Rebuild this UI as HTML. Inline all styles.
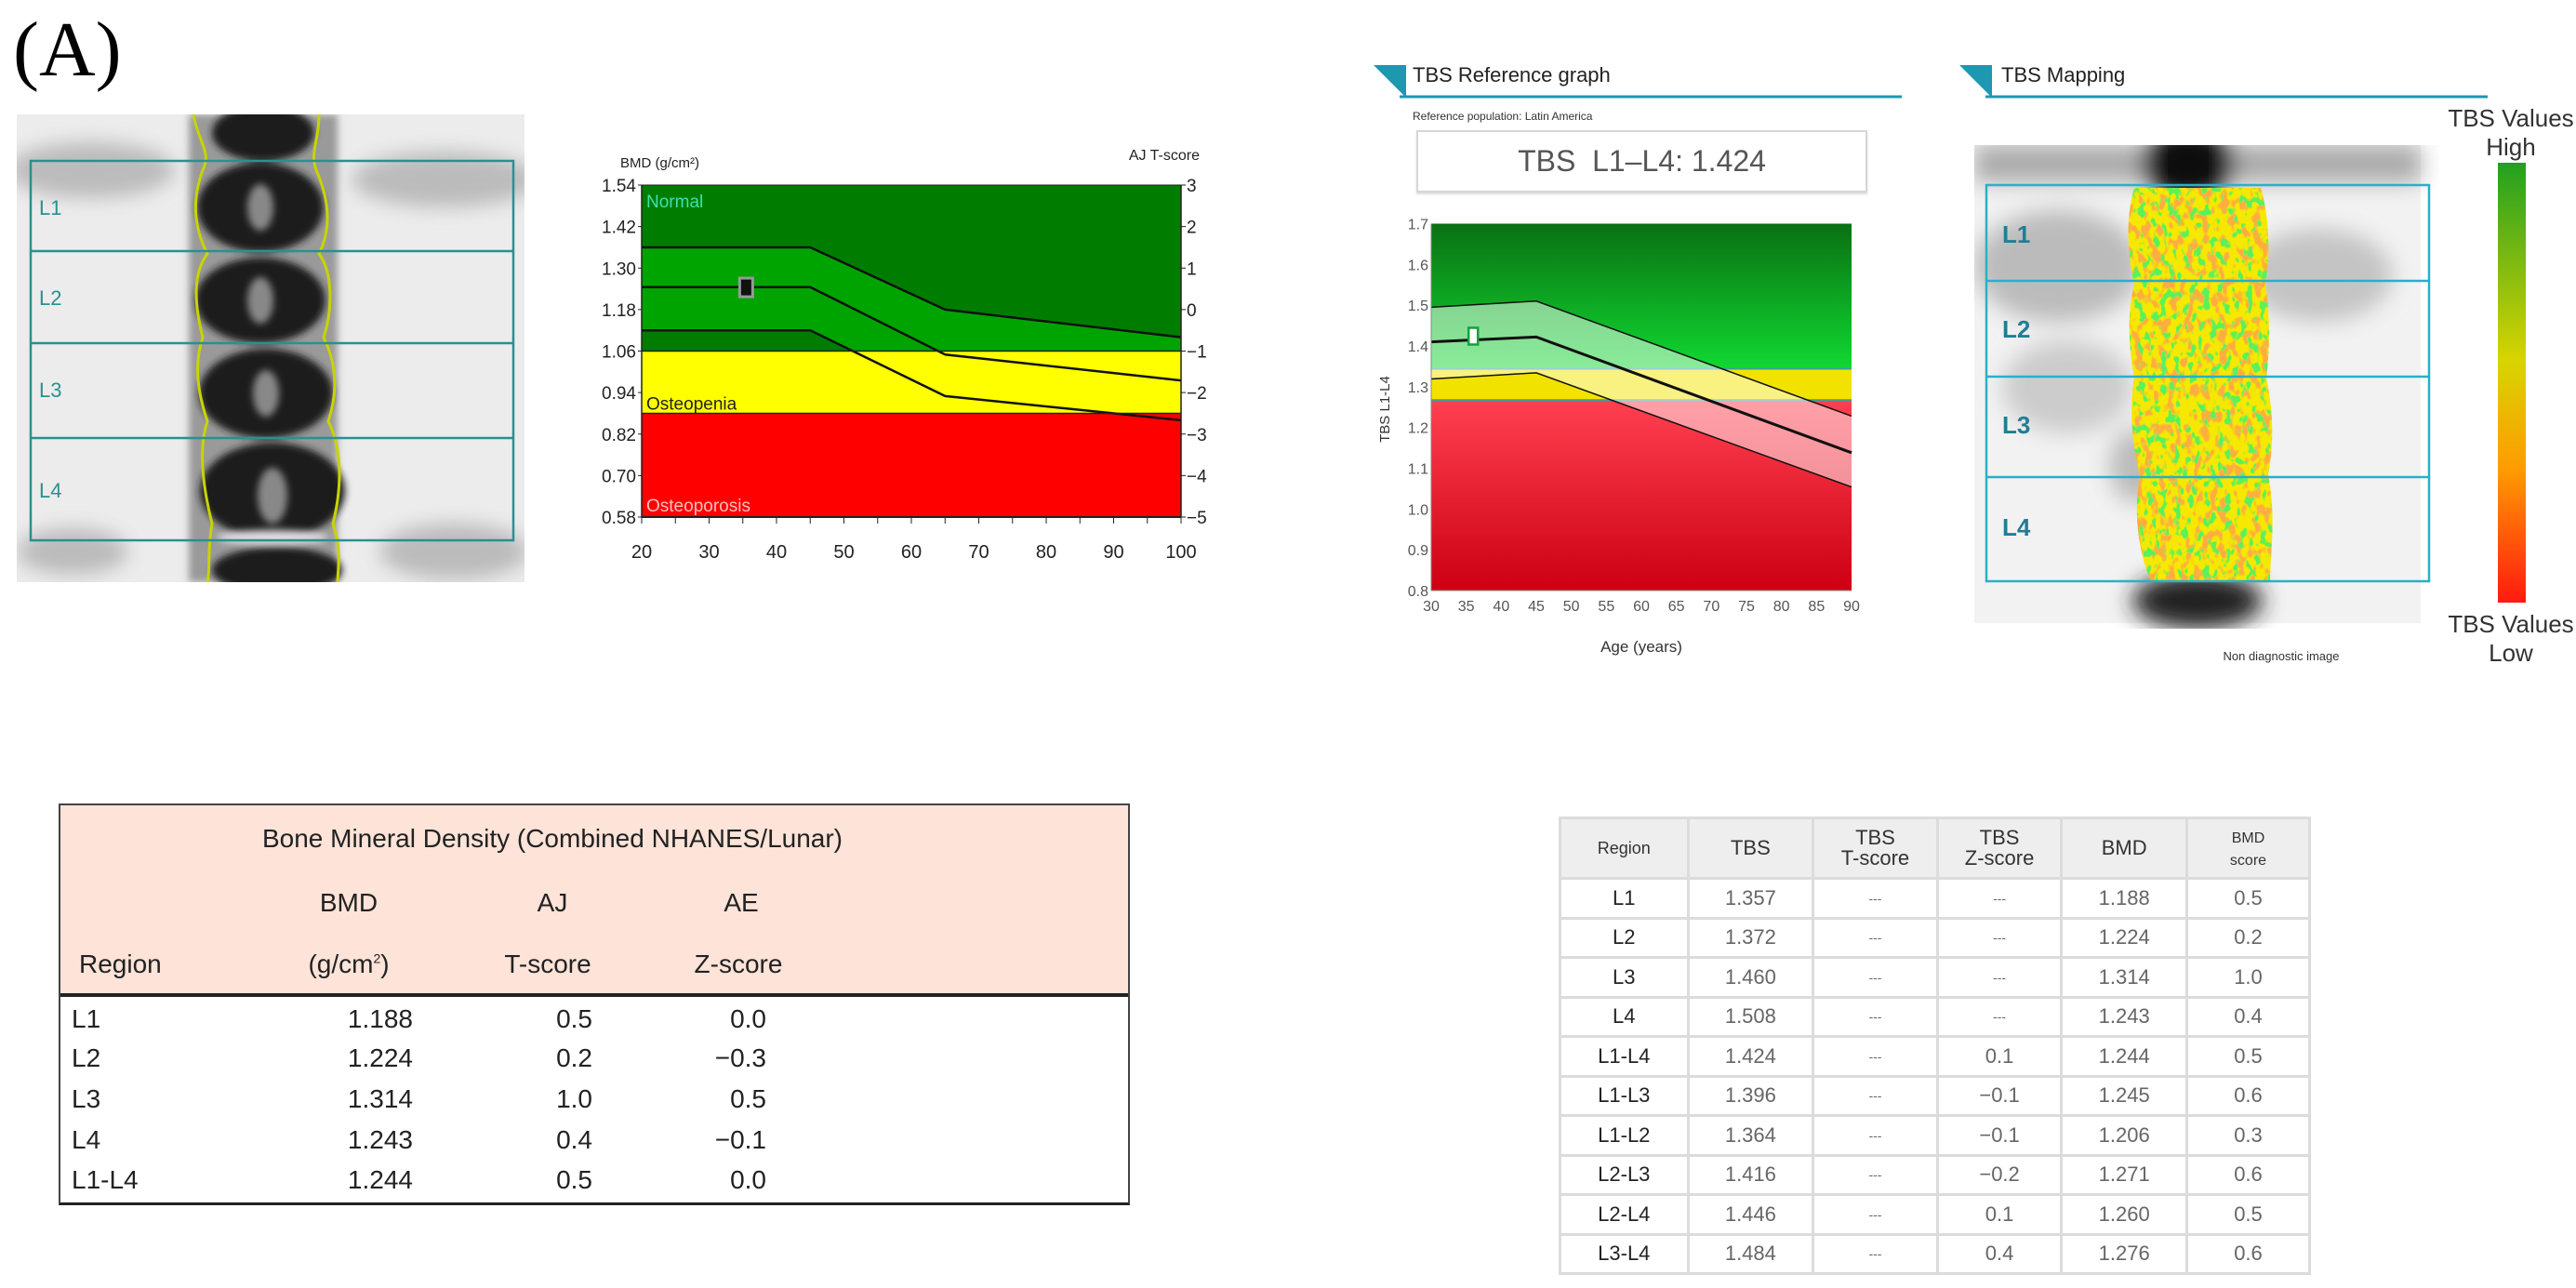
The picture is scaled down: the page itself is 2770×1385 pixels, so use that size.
<!DOCTYPE html>
<html><head><meta charset="utf-8">
<style>
body{margin:0;width:2770px;height:1385px;background:#fff;position:relative;overflow:hidden;font-family:"Liberation Sans",sans-serif;}
.abs{position:absolute;}
.n{font-family:"Liberation Sans Narrow","Liberation Sans",sans-serif;}
table{border-collapse:collapse;}
</style></head><body>
<div class="abs" style="left:14px;top:12px;font-family:'Liberation Serif',serif;font-size:84px;line-height:1;">(A)</div>

<!-- left DXA spine image -->
<svg class="abs" style="left:18px;top:123px" width="546" height="503" viewBox="0 0 546 503">
<defs><filter id="bl"><feGaussianBlur stdDeviation="10"/></filter><filter id="bl2"><feGaussianBlur stdDeviation="4"/></filter></defs>
<rect width="546" height="503" fill="#ececec"/>
<g filter="url(#bl)" fill="#bbb"><ellipse cx="80" cy="60" rx="90" ry="30"/><ellipse cx="460" cy="70" rx="100" ry="30"/><ellipse cx="470" cy="470" rx="80" ry="30"/><ellipse cx="60" cy="470" rx="60" ry="25"/></g>
<rect x="185" y="0" width="160" height="503" fill="#9a9a9a" filter="url(#bl2)"/>
<g filter="url(#bl2)" fill="#1a1a1a">
<ellipse cx="265" cy="20" rx="55" ry="30"/><ellipse cx="262" cy="100" rx="68" ry="48"/><ellipse cx="262" cy="200" rx="70" ry="46"/><ellipse cx="268" cy="300" rx="72" ry="48"/><ellipse cx="275" cy="405" rx="78" ry="52"/><ellipse cx="280" cy="490" rx="70" ry="25"/></g>
<g fill="#888" filter="url(#bl2)"><ellipse cx="262" cy="100" rx="14" ry="25"/><ellipse cx="262" cy="200" rx="14" ry="25"/><ellipse cx="268" cy="300" rx="14" ry="25"/><ellipse cx="275" cy="410" rx="16" ry="30"/><ellipse cx="275" cy="455" rx="60" ry="8" fill="#ddd"/></g>
<path d="M190 0 C195 30 210 40 200 60 C185 100 195 130 205 150 C190 170 190 200 200 240 C190 270 195 300 205 330 C195 360 200 400 210 440 C205 470 208 490 205 503" fill="none" stroke="#c8d400" stroke-width="3"/>
<path d="M325 0 C325 30 315 40 322 60 C340 100 335 130 325 150 C340 170 340 210 330 240 C345 270 345 300 335 330 C350 360 350 400 340 440 C350 470 345 490 345 503" fill="none" stroke="#c8d400" stroke-width="3"/>
<g fill="none" stroke="#2a9090" stroke-width="2.5"><rect x="15" y="50" width="519" height="408"/><line x1="15" y1="147" x2="534" y2="147"/><line x1="15" y1="246" x2="534" y2="246"/><line x1="15" y1="348" x2="534" y2="348"/></g>
<g fill="#2a9090" font-size="22" class="n" font-family="Liberation Sans Narrow,Liberation Sans,sans-serif"><text x="24" y="108">L1</text><text x="24" y="205">L2</text><text x="24" y="304">L3</text><text x="24" y="412">L4</text></g>
</svg>

<svg class="abs" style="left:0;top:0" width="1400" height="640" id="bmd" font-family="Liberation Sans Narrow,Liberation Sans,sans-serif"></svg>

<!-- TBS headers -->
<svg class="abs" style="left:1470px;top:60px" width="1220" height="80">
<polygon points="7,10 42,10 42,45" fill="#1e97b0"/><line x1="35" y1="44" x2="575" y2="44" stroke="#1e97b0" stroke-width="3"/>
<text x="49" y="28" font-size="22" fill="#222" font-family="Liberation Sans Narrow,Liberation Sans,sans-serif">TBS Reference graph</text>
<polygon points="637,10 672,10 672,45" fill="#1e97b0"/><line x1="665" y1="44" x2="1205" y2="44" stroke="#1e97b0" stroke-width="3"/>
<text x="682" y="28" font-size="22" fill="#222" font-family="Liberation Sans Narrow,Liberation Sans,sans-serif">TBS Mapping</text>
<text x="49" y="69" font-size="12" fill="#333" font-family="Liberation Sans Narrow,Liberation Sans,sans-serif">Reference population: Latin America</text>
</svg>
<div class="abs n" style="left:1523px;top:140px;width:481px;height:63px;border:2px solid #d6d6d6;box-shadow:0 2px 2px #ddd;text-align:center;line-height:63px;font-size:32px;color:#555;">TBS&nbsp; L1–L4: 1.424</div>

<svg class="abs" style="left:1400px;top:200px" width="640" height="520" id="tbs" font-family="Liberation Sans Narrow,Liberation Sans,sans-serif"></svg>

<!-- TBS mapping image -->
<svg class="abs" style="left:2123px;top:156px" width="500" height="520" viewBox="0 0 500 520">
<defs>
<filter id="bl3"><feGaussianBlur stdDeviation="12"/></filter>
<filter id="tex" x="0" y="0" width="100%" height="100%">
<feTurbulence type="fractalNoise" baseFrequency="0.11 0.07" numOctaves="2" seed="7" result="t"/>
<feColorMatrix in="t" type="matrix" values="0 0 0 0 1  0 0 0 0 0.42  0 0 0 0 0.05  9 0 0 0 -4.6" result="o"/>
<feTurbulence type="fractalNoise" baseFrequency="0.13 0.09" numOctaves="2" seed="21" result="g0"/>
<feColorMatrix in="g0" type="matrix" values="0 0 0 0 0.1  0 0 0 0 0.88  0 0 0 0 0.1  0 10 0 0 -5.6" result="g"/>
<feMerge><feMergeNode in="o"/><feMergeNode in="g"/></feMerge></filter>
<clipPath id="vc"><path d="M172 46 C162 80 165 120 172 150 C164 180 166 220 172 250 C166 290 170 320 178 355 C170 400 178 440 190 470 L318 470 C318 440 325 400 316 355 C322 320 322 290 314 250 C318 220 318 180 313 150 C318 120 318 80 308 46 Z"/></clipPath>
</defs>
<rect x="0" y="0" width="480" height="514" fill="#f2f2f2"/>
<g filter="url(#bl3)"><rect x="0" y="0" width="480" height="40" fill="#aaa"/><ellipse cx="230" cy="20" rx="50" ry="40" fill="#111"/><ellipse cx="90" cy="130" rx="90" ry="60" fill="#bbb"/><ellipse cx="370" cy="140" rx="80" ry="50" fill="#c4c4c4"/><ellipse cx="100" cy="260" rx="70" ry="50" fill="#ccc"/><ellipse cx="175" cy="345" rx="30" ry="40" fill="#bbb"/><ellipse cx="240" cy="490" rx="70" ry="30" fill="#222"/></g>
<rect x="160" y="40" width="170" height="440" fill="#f6e800" clip-path="url(#vc)"/>
<rect x="160" y="40" width="170" height="440" filter="url(#tex)" clip-path="url(#vc)"/>
<g fill="none" stroke="#29b0c8" stroke-width="2.5"><rect x="13" y="43" width="476" height="426"/><line x1="13" y1="146" x2="489" y2="146"/><line x1="13" y1="249" x2="489" y2="249"/><line x1="13" y1="357" x2="489" y2="357"/></g>
<g fill="#1f7e95" font-size="26" font-weight="bold" font-family="Liberation Sans Narrow,Liberation Sans,sans-serif"><text x="30" y="105">L1</text><text x="30" y="207">L2</text><text x="30" y="310">L3</text><text x="30" y="420">L4</text></g>
</svg>
<div class="abs n" style="left:2373px;top:698px;width:160px;text-align:center;font-size:13px;color:#333;">Non diagnostic image</div>
<svg class="abs" style="left:2686px;top:175px" width="30" height="473"><defs><linearGradient id="cs" x1="0" y1="0" x2="0" y2="1"><stop offset="0" stop-color="#22a020"/><stop offset="0.45" stop-color="#d8d400"/><stop offset="0.7" stop-color="#ff9a00"/><stop offset="1" stop-color="#ff1a10"/></linearGradient></defs><rect width="30" height="473" fill="url(#cs)"/></svg>
<div class="abs n" style="left:2630px;top:112px;width:140px;text-align:center;font-size:26px;line-height:31px;color:#333;">TBS Values<br>High</div>
<div class="abs n" style="left:2630px;top:656px;width:140px;text-align:center;font-size:26px;line-height:31px;color:#333;">TBS Values<br>Low</div>

<!-- BMD table -->
<div class="abs n" style="left:63px;top:864px;width:1148px;height:427px;border:2px solid #444;border-bottom:3px solid #222;font-size:28px;color:#222;">
 <div style="position:absolute;left:0;top:0;width:1148px;height:202px;background:#fde3d8;border-bottom:4px solid #222;"></div>
 <div class="abs" style="left:0;width:1058px;top:20px;text-align:center;">Bone Mineral Density (Combined NHANES/Lunar)</div>
 <div class="abs" style="left:250px;width:120px;top:89px;text-align:center;">BMD</div>
 <div class="abs" style="left:469px;width:120px;top:89px;text-align:center;">AJ</div>
 <div class="abs" style="left:672px;width:120px;top:89px;text-align:center;">AE</div>
 <div class="abs" style="left:20px;top:155px;">Region</div>
 <div class="abs" style="left:250px;width:120px;top:155px;text-align:center;">(g/cm<sup style="font-size:14px">2</sup>)</div>
 <div class="abs" style="left:464px;width:120px;top:155px;text-align:center;">T-score</div>
 <div class="abs" style="left:669px;width:120px;top:155px;text-align:center;">Z-score</div>
 <div id="bmdrows"></div>
</div>

<!-- TBS table -->
<table class="abs" id="tbstab" style="left:1676px;top:878px;width:809px;font-size:22px;color:#666;text-align:center;"></table>

<script>
// ---- BMD chart data ----
const bmdYTicks=[1.54,1.42,1.30,1.18,1.06,0.94,0.82,0.70,0.58];
const tScoreTicks=[3,2,1,0,-1,-2,-3,-4,-5];
const bmdXTicks=[20,30,40,50,60,70,80,90,100];
const bmdLineAges=[20,45,65,100];
const bmdUpper=[1.36,1.36,1.18,1.10];
const bmdMiddle=[1.245,1.245,1.05,0.975];
const bmdLower=[1.12,1.12,0.93,0.86];
const bmdZones=[1.06,0.88];
const bmdPatient=[35.5,1.244];
// ---- TBS chart data ----
const tbsYTicks=[1.7,1.6,1.5,1.4,1.3,1.2,1.1,1.0,0.9,0.8];
const tbsXTicks=[30,35,40,45,50,55,60,65,70,75,80,85,90];
const tbsLineAges=[30,45,90];
const tbsUpper=[1.495,1.51,1.228];
const tbsMiddle=[1.41,1.422,1.138];
const tbsLower=[1.319,1.334,1.054];
const tbsZones=[1.344,1.267];
const tbsPatient=[36,1.424];
// ---- tables ----
const bmdRegions=["L1","L2","L3","L4","L1-L4"];
const bmdValues=["1.188","1.224","1.314","1.243","1.244"];
const bmdT=["0.5","0.2","1.0","0.4","0.5"];
const bmdZ=["0.0","\u22120.3","0.5","\u22120.1","0.0"];
const tbsRegions=["L1","L2","L3","L4","L1-L4","L1-L3","L1-L2","L2-L3","L2-L4","L3-L4"];
const tbsValues=["1.357","1.372","1.460","1.508","1.424","1.396","1.364","1.416","1.446","1.484"];
const tbsT=["---","---","---","---","---","---","---","---","---","---"];
const tbsZ=["---","---","---","---","0.1","\u22120.1","\u22120.1","\u22120.2","0.1","0.4"];
const tbsBmd=["1.188","1.224","1.314","1.243","1.244","1.245","1.206","1.271","1.260","1.276"];
const tbsBmdScore=["0.5","0.2","1.0","0.4","0.5","0.6","0.3","0.6","0.5","0.6"];

const NS="http://www.w3.org/2000/svg";
function mk(p,tag,at,txt){const e=document.createElementNS(NS,tag);for(const k in at)e.setAttribute(k,at[k]);if(txt!==undefined)e.textContent=txt;p.appendChild(e);return e;}

// BMD chart
(function(){
const s=document.getElementById('bmd');
const L=690,R=1270,T=199,B=556;
const x=a=>L+(a-20)/80*(R-L), y=v=>T+(1.54-v)/0.96*(B-T);
const defs=mk(s,'defs',{});const cp=mk(defs,'clipPath',{id:'gclip'});mk(cp,'rect',{x:L,y:T,width:R-L,height:y(bmdZones[0])-T});
let r=mk(s,'rect',{x:L,y:T,width:R-L,height:y(bmdZones[0])-T,fill:'#007d00'});
r=mk(s,'rect',{x:L,y:y(bmdZones[0]),width:R-L,height:y(bmdZones[1])-y(bmdZones[0]),fill:'#ffff00'});
r=mk(s,'rect',{x:L,y:y(bmdZones[1]),width:R-L,height:B-y(bmdZones[1]),fill:'#ff0000'});
const up=bmdLineAges.map((a,i)=>x(a)+','+y(bmdUpper[i])), lo=bmdLineAges.map((a,i)=>x(a)+','+y(bmdLower[i])).reverse();
const band=mk(s,'polygon',{points:up.concat(lo).join(' '),fill:'#00a400','clip-path':'url(#gclip)'});

[[bmdUpper,'upper-reference-line'],[bmdMiddle,'mean-reference-line'],[bmdLower,'lower-reference-line']].forEach(([arr,nm])=>{
 const l=mk(s,'polyline',{points:bmdLineAges.map((a,i)=>x(a)+','+y(arr[i])).join(' '),fill:'none',stroke:'#111','stroke-width':2.5});
 });
mk(s,'line',{x1:L,y1:y(bmdZones[0]),x2:R,y2:y(bmdZones[0]),stroke:'#222','stroke-width':1.5});
mk(s,'line',{x1:L,y1:y(bmdZones[1]),x2:R,y2:y(bmdZones[1]),stroke:'#222','stroke-width':1.5});
mk(s,'line',{x1:L,y1:T,x2:R,y2:T,stroke:'#222','stroke-width':1});
const t1=mk(s,'text',{x:L+5,y:T+24,'font-size':19,fill:'#40e0b0'},'Normal');
const t2=mk(s,'text',{x:L+5,y:y(bmdZones[1])-4,'font-size':19,fill:'#222'},'Osteopenia');
const t3=mk(s,'text',{x:L+5,y:B-6,'font-size':19,fill:'#ffc0c0'},'Osteoporosis');
const m=mk(s,'rect',{x:x(bmdPatient[0])-7,y:y(bmdPatient[1])-10,width:14,height:20,fill:'#111',stroke:'#999','stroke-width':3});

mk(s,'line',{x1:L,y1:T,x2:L,y2:B,stroke:'#222','stroke-width':1.5});mk(s,'line',{x1:R,y1:T,x2:R,y2:B,stroke:'#222','stroke-width':1.5});mk(s,'line',{x1:L,y1:B,x2:R,y2:B,stroke:'#222','stroke-width':2});
bmdYTicks.forEach((v,i)=>{const yy=y(v);
 const a=mk(s,'text',{x:L-6,y:yy+7,'font-size':19,'text-anchor':'end',fill:'#222'},v.toFixed(2));
 mk(s,'line',{x1:L-4,y1:yy,x2:L,y2:yy,stroke:'#222'});mk(s,'line',{x1:R,y1:yy,x2:R+5,y2:yy,stroke:'#222'});
 const b=mk(s,'text',{x:R+6,y:yy+7,'font-size':19,fill:'#222'},tScoreTicks[i]<0?'\u2212'+(-tScoreTicks[i]):String(tScoreTicks[i]));});
for(let a=20;a<=100;a+=5){mk(s,'line',{x1:x(a),y1:B,x2:x(a),y2:B+7,stroke:'#222'});}
bmdXTicks.forEach(a=>{const t=mk(s,'text',{x:x(a),y:B+44,'font-size':20,'text-anchor':'middle',fill:'#222'},String(a));});
const yt=mk(s,'text',{x:667,y:180,'font-size':15,fill:'#222'},'BMD (g/cm²)');
const rt=mk(s,'text',{x:1290,y:172,'font-size':16,'text-anchor':'end',fill:'#222'},'AJ T-score');
})();

// TBS chart (svg offset 1400,200)
(function(){
const s=document.getElementById('tbs');
const L=139,R=591,T=40.5,B=435;
const x=a=>L+(a-30)/60*(R-L), y=v=>T+(1.7-v)/0.9*(B-T);
const d=mk(s,'defs',{});
let g=mk(d,'linearGradient',{id:'gg',x1:0,y1:0,x2:0,y2:1});mk(g,'stop',{offset:0,'stop-color':'#0a7012'});mk(g,'stop',{offset:1,'stop-color':'#10d832'});
g=mk(d,'linearGradient',{id:'rg',x1:0,y1:0,x2:0,y2:1});mk(g,'stop',{offset:0,'stop-color':'#ff4050'});mk(g,'stop',{offset:1,'stop-color':'#cc0012'});
let r=mk(s,'rect',{x:L,y:T,width:R-L,height:y(tbsZones[0])-T,fill:'url(#gg)'});
r=mk(s,'rect',{x:L,y:y(tbsZones[0]),width:R-L,height:y(tbsZones[1])-y(tbsZones[0]),fill:'#f2e200'});
r=mk(s,'rect',{x:L,y:y(tbsZones[1]),width:R-L,height:B-y(tbsZones[1]),fill:'url(#rg)'});
mk(s,'line',{x1:L,y1:y(tbsZones[0]),x2:R,y2:y(tbsZones[0]),stroke:'#3aa0a0','stroke-width':2});
mk(s,'line',{x1:L,y1:y(tbsZones[1]),x2:R,y2:y(tbsZones[1]),stroke:'#3aa0a0','stroke-width':2});
const up=tbsLineAges.map((a,i)=>x(a)+','+y(tbsUpper[i])), lo=tbsLineAges.map((a,i)=>x(a)+','+y(tbsLower[i])).reverse();
const band=mk(s,'polygon',{points:up.concat(lo).join(' '),fill:'#fff','fill-opacity':0.5});
[[tbsUpper,'upper-reference-line',1.5],[tbsMiddle,'mean-reference-line',3],[tbsLower,'lower-reference-line',1.5]].forEach(([arr,nm,w])=>{
 const l=mk(s,'polyline',{points:tbsLineAges.map((a,i)=>x(a)+','+y(arr[i])).join(' '),fill:'none',stroke:'#111','stroke-width':w});
 });
const m=mk(s,'rect',{x:x(tbsPatient[0])-5,y:y(tbsPatient[1])-9,width:10,height:18,fill:'#fff',stroke:'#12a040','stroke-width':2.5});
mk(s,'line',{x1:L,y1:T,x2:L,y2:B,stroke:'#888'});mk(s,'line',{x1:L,y1:B,x2:R,y2:B,stroke:'#888'});
tbsYTicks.forEach(v=>{const t=mk(s,'text',{x:L-3,y:y(v)+6,'font-size':16,'text-anchor':'end',fill:'#555'},v.toFixed(1));});
tbsXTicks.forEach(a=>{const t=mk(s,'text',{x:x(a),y:B+22,'font-size':16,'text-anchor':'middle',fill:'#555'},String(a));});
const xt=mk(s,'text',{x:(L+R)/2,y:B+66,'font-size':17,'text-anchor':'middle',fill:'#333'},'Age (years)');
const yt=mk(s,'text',{x:0,y:0,'font-size':15,'text-anchor':'middle',fill:'#333',transform:'translate(94,240) rotate(-90)','font-family':'Liberation Sans,sans-serif'},'TBS L1-L4');
})();

// BMD table rows
(function(){
const c=document.getElementById('bmdrows');const ys=[234,276,320,364,407];
bmdRegions.forEach((rg,i)=>{
 const row=document.createElement('div');row.className='abs';row.style.cssText='left:0;top:'+(ys[i]-20)+'px;width:1148px;height:40px;';
 
 
 row.innerHTML='<span class="abs" style="left:12px">'+rg+'</span><span class="abs" style="right:769px">'+bmdValues[i]+'</span><span class="abs" style="right:576px">'+bmdT[i]+'</span><span class="abs" style="right:389px">'+bmdZ[i]+'</span>';
 c.appendChild(row);});
})();

// TBS table
(function(){
const t=document.getElementById('tbstab');
const bd='3px solid #dcdcdc';
const h=document.createElement('tr');

h.style.cssText='height:65px;background:#eeeeee;color:#333;';
const hs=['Region','TBS','TBS<br>T-score','TBS<br>Z-score','BMD','<span style="font-size:16px;line-height:20px">BMD<br>score</span>'];
const ws=[138,135,134,134,135,133];
hs.forEach((x,i)=>{const th=document.createElement('td');th.innerHTML=x;th.style.cssText='border:'+bd+';width:'+ws[i]+'px;padding:0;line-height:22px;font-size:'+(i==0?18:22)+'px';h.appendChild(th);});
t.appendChild(h);
tbsRegions.forEach((rg,i)=>{const tr=document.createElement('tr');tr.style.height='42.5px';
 
 
 [rg,tbsValues[i],tbsT[i],tbsZ[i],tbsBmd[i],tbsBmdScore[i]].forEach((v,j)=>{const td=document.createElement('td');td.textContent=v;td.style.cssText='border:'+bd+';padding:0;'+(j==0?'color:#222;':'')+(j==2||(j==3&&v=='---')?'font-size:14px;':'');tr.appendChild(td);});
 t.appendChild(tr);});
})();
</script>
</body></html>
